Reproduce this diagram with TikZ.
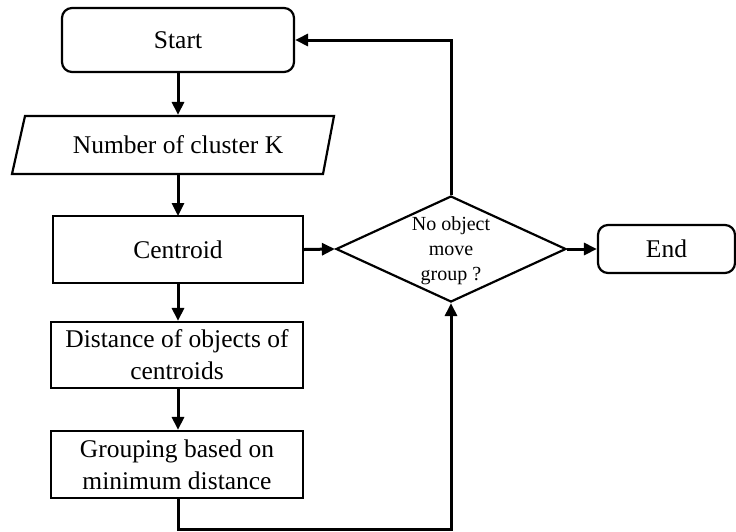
\documentclass[tikz,border=0pt]{standalone}
\usepackage{fontspec}
\setmainfont{Liberation Serif}
\usetikzlibrary{shapes.geometric,arrows.meta,calc}

\tikzset{
  box/.style={draw, line width=2.2pt, inner sep=0pt, align=center,
    font=\fontsize{25.5}{32}\selectfont},
  roundbox/.style={box, rounded corners=10pt},
  flow/.style={line width=3pt, -{Triangle[length=13pt,width=12pt]}},
}

\begin{document}
\begin{tikzpicture}[x=1pt,y=-1pt]
  \useasboundingbox (0,0) rectangle (736,531);

  % terminals and process boxes
  \node[roundbox, minimum width=232, minimum height=64] (start) at (178,40) {Start};
  \node[box, draw=none, minimum width=300, minimum height=58] (num) at (178,145) {Number of cluster K};
  \draw[line width=2.2pt, line join=miter]
    (25,116) -- (334,116) -- (323,174) -- (12,174) -- cycle;
  \node[box, minimum width=250, minimum height=67] (cen) at (178,249.5) {Centroid};
  \node[box, minimum width=252, minimum height=66] (dist) at (177,355) {Distance of objects of\\centroids};
  \node[box, minimum width=252, minimum height=67] (grp) at (177,464.5) {Grouping based on\\minimum distance};

  % decision
  \node[draw, line width=2.2pt, diamond, shape aspect=2.17, inner sep=0pt,
        minimum width=230, minimum height=106] (dec) at (451,249) {};
  \node[align=center, inner sep=0pt, font=\fontsize{20}{25}\selectfont]
        (dectext) at (451,251) {No object\\move\\group ?};

  \node[roundbox, minimum width=137, minimum height=48] (end) at (666.5,249) {End};

  % connectors
  \draw[flow] (start.south) -- (num.north);
  \draw[flow] (num.south) -- (178,216);
  \draw[flow] (cen.south) -- (dist.north -| cen.south);
  \draw[flow] (dist.south -| cen.south) -- (grp.north -| cen.south);
  \draw[flow] (grp.south -| cen.south) -- ++(0,30) -| (dec.south);
  \draw[flow] (cen.east) -- (dec.west);
  \draw[flow] (dec.north) |- (start.east);
  \draw[flow] (dec.east) -- (end.west);
\end{tikzpicture}
\end{document}
